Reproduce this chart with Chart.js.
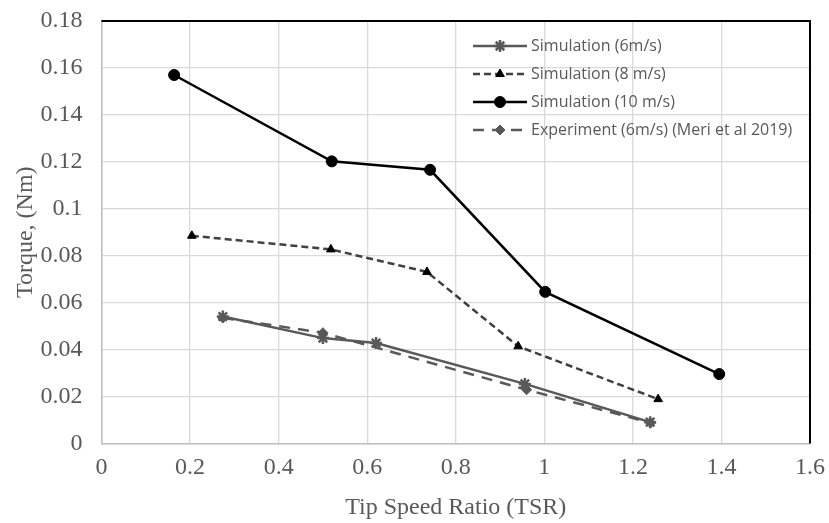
<!DOCTYPE html>
<html>
<head>
<meta charset="utf-8">
<script src="https://cdn.jsdelivr.net/npm/chart.js@4.4.1/dist/chart.umd.min.js"></script>
<style>
  html, body { margin: 0; padding: 0; background: #fff; }
  #wrap { width: 829px; height: 523px; position: relative; }
</style>
</head>
<body>
<div id="wrap"><canvas id="torqueChart"></canvas></div>
<script>
// data
const tsrSim6 = [0.274, 0.50, 0.62, 0.956, 1.239];
const torqueSim6 = [0.0541, 0.0449, 0.0428, 0.0254, 0.0091];

const tsrSim8 = [0.204, 0.518, 0.735, 0.941, 1.257];
const torqueSim8 = [0.0885, 0.0827, 0.0731, 0.0414, 0.0189];

const tsrSim10 = [0.164, 0.52, 0.742, 1.002, 1.395];
const torqueSim10 = [0.157, 0.1202, 0.1166, 0.0646, 0.0296];

const tsrExp6 = [0.274, 0.50, 0.96, 1.24];
const torqueExp6 = [0.0535, 0.0472, 0.0229, 0.0088];

const seriesNames = [
  "Simulation (6m/s)",
  "Simulation (8 m/s)",
  "Simulation (10 m/s)",
  "Experiment (6m/s) (Meri et al 2019)",
];

const xTickLabels = ["0", "0.2", "0.4", "0.6", "0.8", "1", "1.2", "1.4", "1.6"];
const yTickLabels = ["0", "0.02", "0.04", "0.06", "0.08", "0.1", "0.12", "0.14", "0.16", "0.18"];

const xTitle = "Tip Speed Ratio (TSR)";
const yTitle = "Torque, (Nm)";

const toPoints = (xs, ys) => xs.map((x, i) => ({ x: x, y: ys[i] }));

const serif = "'Liberation Serif', 'DejaVu Serif', serif";
const textGray = "#595959";

// Excel style frame: black top and right edges
const frameEdges = {
  id: "frameEdges",
  afterDraw(chart) {
    const { ctx, chartArea: a } = chart;
    ctx.save();
    ctx.strokeStyle = "#000";
    ctx.lineWidth = 2;
    ctx.beginPath();
    ctx.moveTo(a.left, a.top);
    ctx.lineTo(a.right, a.top);
    ctx.lineTo(a.right, a.bottom);
    ctx.stroke();
    ctx.restore();
  },
};

// legend sitting inside the plot, top right
const innerLegend = {
  id: "innerLegend",
  afterDraw(chart) {
    const ctx = chart.ctx;
    const x0 = 473, x1 = 527, textX = 531;
    const rows = [46, 74, 102, 130];
    ctx.save();
    chart.data.datasets.forEach((ds, i) => {
      const y = rows[i];
      ctx.strokeStyle = ds.borderColor;
      ctx.lineWidth = ds.borderWidth;
      ctx.setLineDash(ds.borderDash || []);
      ctx.beginPath();
      ctx.moveTo(x0, y);
      ctx.lineTo(x1, y);
      ctx.stroke();
      ctx.setLineDash([]);
      ctx.fillStyle = ds.pointBackgroundColor;
      ctx.strokeStyle = ds.pointBorderColor;
      ctx.lineWidth = ds.pointBorderWidth;
      Chart.helpers.drawPoint(ctx, {
        pointStyle: ds.pointStyle,
        radius: ds.pointRadius,
        rotation: 0,
        borderWidth: ds.pointBorderWidth,
      }, (x0 + x1) / 2, y);
      ctx.fillStyle = textGray;
      ctx.font = "16px 'Open Sans', 'Noto Sans', sans-serif";
      ctx.textBaseline = "middle";
      ctx.textAlign = "left";
      ctx.fillText(ds.label, textX, y);
    });
    ctx.restore();
  },
};

const hiddenTick = "rgba(0,0,0,0)";

new Chart(document.getElementById("torqueChart"), {
  type: "scatter",
  data: {
    datasets: [
      {
        label: seriesNames[0],
        data: toPoints(tsrSim6, torqueSim6),
        showLine: true,
        borderColor: "#595959",
        borderWidth: 2.5,
        pointStyle: "star",
        pointRadius: 6,
        pointBackgroundColor: "#595959",
        pointBorderColor: "#595959",
        pointBorderWidth: 2.5,
      },
      {
        label: seriesNames[1],
        data: toPoints(tsrSim8, torqueSim8),
        showLine: true,
        borderColor: "#404040",
        borderWidth: 2.5,
        borderDash: [7, 4],
        pointStyle: "triangle",
        pointRadius: 5,
        pointBackgroundColor: "#000",
        pointBorderColor: "#000",
        pointBorderWidth: 1,
      },
      {
        label: seriesNames[2],
        data: toPoints(tsrSim10, torqueSim10),
        showLine: true,
        borderColor: "#000",
        borderWidth: 2.5,
        pointStyle: "circle",
        pointRadius: 5.5,
        pointBackgroundColor: "#000",
        pointBorderColor: "#000",
        pointBorderWidth: 1,
      },
      {
        label: seriesNames[3],
        data: toPoints(tsrExp6, torqueExp6),
        showLine: true,
        borderColor: "#595959",
        borderWidth: 2.5,
        borderDash: [11, 8],
        pointStyle: "rectRot",
        pointRadius: 5,
        pointBackgroundColor: "#595959",
        pointBorderColor: "#595959",
        pointBorderWidth: 1,
      },
    ],
  },
  options: {
    responsive: true,
    maintainAspectRatio: false,
    animation: false,
    layout: { autoPadding: false, padding: { left: 0, right: 19, top: 21, bottom: 0 } },
    plugins: {
      legend: { display: false },
      tooltip: { enabled: false },
    },
    scales: {
      x: {
        type: "linear",
        min: 0,
        max: 1.6,
        afterFit: (scale) => { scale.height = 79.5; },
        ticks: {
          stepSize: 0.2,
          padding: 0,
          color: textGray,
          font: { family: serif, size: 24 },
          callback: (value, index) => xTickLabels[index],
        },
        grid: { color: "#d9d9d9", lineWidth: 1.3, drawTicks: true, tickLength: 10, tickColor: hiddenTick },
        border: { color: "#bfbfbf", width: 1.5 },
        title: {
          display: true,
          text: xTitle,
          color: textGray,
          font: { family: serif, size: 24 },
          padding: { top: 0, bottom: 1 },
        },
      },
      y: {
        type: "linear",
        min: 0,
        max: 0.18,
        afterFit: (scale) => { scale.width = 101.5; },
        ticks: {
          stepSize: 0.02,
          padding: 1,
          color: textGray,
          font: { family: serif, size: 24 },
          callback: (value, index) => yTickLabels[index],
        },
        grid: { color: "#d9d9d9", lineWidth: 1.3, drawTicks: true, tickLength: 18, tickColor: hiddenTick },
        border: { color: "#bfbfbf", width: 1.5 },
        title: {
          display: true,
          text: yTitle,
          color: textGray,
          font: { family: serif, size: 24 },
          padding: { top: 11, bottom: 0 },
        },
      },
    },
  },
  plugins: [frameEdges, innerLegend],
});
</script>
</body>
</html>
